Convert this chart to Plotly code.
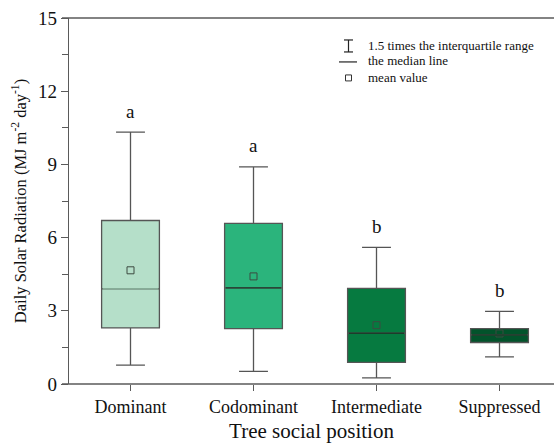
import plotly.graph_objects as go

# Tree social position categories and box statistics (MJ m-2 day-1)
categories = ["Dominant", "Codominant", "Intermediate", "Suppressed"]
lower_whisker = [0.77, 0.52, 0.25, 1.11]
q1 = [2.30, 2.27, 0.89, 1.70]
median = [3.90, 3.94, 2.08, 2.01]
q3 = [6.70, 6.58, 3.92, 2.27]
upper_whisker = [10.32, 8.90, 5.60, 2.98]
mean = [4.66, 4.41, 2.41, 2.07]
letters = ["a", "a", "b", "b"]

fill_colors = ["#b5dfc9", "#2bb47c", "#067a40", "#02532b"]
median_colors = ["#93c7aa", "#1e3b2b", "#1e3b2b", "#1e3b2b"]
y_ticks = [0, 3, 6, 9, 12, 15]

FONT = "Liberation Serif, Times New Roman, serif"
AXIS_COLOR = "#5a5a5a"
BOX_W = 0.47

W, H = 554, 447
L, R, T, B = 69, 0, 18, 62.5
plot_w = W - L - R
plot_h = H - T - B

positions = list(range(len(categories)))
x_min = -0.5
x_max = x_min + plot_w / 123.0

fig = go.Figure()

for i, cat in enumerate(categories):
    fig.add_trace(go.Box(
        x=[positions[i]],
        q1=[q1[i]], median=[median[i]], q3=[q3[i]],
        lowerfence=[lower_whisker[i]], upperfence=[upper_whisker[i]],
        width=BOX_W,
        whiskerwidth=0.5,
        fillcolor=fill_colors[i],
        line=dict(color="#555555", width=1.3),
        boxpoints=False,
        name=cat,
        showlegend=False,
        hoverinfo="skip",
    ))
    # median line drawn over the box in its own colour
    fig.add_shape(type="line", xref="x", yref="y",
                  x0=positions[i] - BOX_W / 2 + 0.01, x1=positions[i] + BOX_W / 2 - 0.01,
                  y0=median[i], y1=median[i],
                  line=dict(color=median_colors[i], width=1.4 if i else 1.0))

# mean markers
fig.add_trace(go.Scatter(
    x=positions, y=mean, mode="markers",
    marker=dict(symbol="square-open", size=7, color="#3c4a40", line=dict(width=1)),
    showlegend=False, hoverinfo="skip",
))

# significance letters above the whiskers
for i, let in enumerate(letters):
    fig.add_annotation(x=positions[i], y=upper_whisker[i], text=let,
                       showarrow=False, yanchor="middle", yshift=21,
                       font=dict(family=FONT, size=19, color="#111111"))

def px_x(px):
    return (px - L) / plot_w

def px_y(py):
    return (H - B - py) / plot_h

# top frame line and bottom axis line, both extending a little left of the y axis
for yp in (0, 1):
    fig.add_shape(type="line", xref="paper", yref="paper",
                  x0=px_x(62), x1=1, y0=yp, y1=yp,
                  line=dict(color=AXIS_COLOR, width=1.3))

# legend glyphs
glyph = dict(color="#222222", width=1.2)
cx = px_x(348.5)
fig.add_shape(type="line", xref="paper", yref="paper", x0=cx, x1=cx,
              y0=px_y(52), y1=px_y(40), line=glyph)
for yy in (40, 52):
    fig.add_shape(type="line", xref="paper", yref="paper", x0=px_x(344), x1=px_x(353),
                  y0=px_y(yy), y1=px_y(yy), line=glyph)
fig.add_shape(type="line", xref="paper", yref="paper", x0=px_x(339), x1=px_x(357),
              y0=px_y(62), y1=px_y(62), line=glyph)
fig.add_shape(type="rect", xref="paper", yref="paper", x0=px_x(345.5), x1=px_x(351.5),
              y0=px_y(81), y1=px_y(75), line=dict(color="#333333", width=1))

legend_texts = ["1.5 times the interquartile range", "the median line", "mean value"]
for txt, yy in zip(legend_texts, [46, 61, 78]):
    fig.add_annotation(xref="paper", yref="paper", x=px_x(366), y=px_y(yy),
                       text=txt, showarrow=False, xanchor="left", yanchor="middle",
                       font=dict(family=FONT, size=13, color="#111111"))

fig.update_layout(
    width=W, height=H,
    margin=dict(l=L, r=R, t=T, b=B, pad=0),
    paper_bgcolor="white", plot_bgcolor="white",
    font=dict(family=FONT, color="#111111"),
    showlegend=False,
    xaxis=dict(
        range=[x_min, x_max],
        tickmode="array", tickvals=positions, ticktext=categories,
        showline=False, showgrid=False, zeroline=False,
        ticks="outside", ticklen=6, tickwidth=1.2, tickcolor=AXIS_COLOR,
        tickfont=dict(family=FONT, size=18, color="#111111"),
        title=dict(text="Tree social position", standoff=7,
                   font=dict(family=FONT, size=21, color="#111111")),
    ),
    yaxis=dict(
        range=[0, 15],
        tickmode="array", tickvals=y_ticks,
        showline=True, linecolor=AXIS_COLOR, linewidth=1.3,
        showgrid=False, zeroline=False,
        ticks="outside", ticklen=7, tickwidth=1.2, tickcolor=AXIS_COLOR,
        minor=dict(dtick=1.5, ticks="outside", ticklen=6, tickwidth=1, tickcolor=AXIS_COLOR, showgrid=False),
        tickfont=dict(family=FONT, size=19, color="#111111"),
        title=dict(text="Daily Solar Radiation (MJ m<sup>-2</sup> day<sup>-1</sup>)", standoff=7,
                   font=dict(family=FONT, size=16.5, color="#111111")),
    ),
)

fig.write_html("out.html")
